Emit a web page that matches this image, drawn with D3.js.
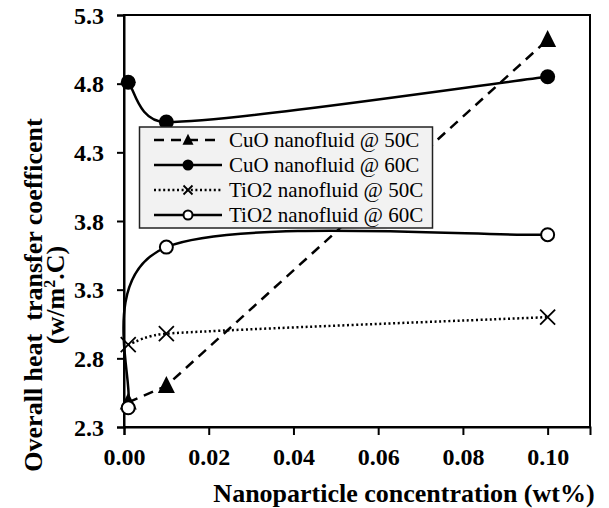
<!DOCTYPE html>
<html>
<head>
<meta charset="utf-8">
<script src="https://cdn.jsdelivr.net/npm/d3@7"></script>
<style>
  html, body { margin: 0; padding: 0; background: #fff; }
  svg { display: block; }
  text { font-family: "Liberation Serif", "Times New Roman", serif; }
</style>
</head>
<body>
<script>
// ---- data ----
const concentrations = [0.001, 0.01, 0.1];
const cuo50 = [2.48, 2.60, 5.12];
const cuo60 = [4.81, 4.52, 4.85];
const tio50 = [2.90, 2.98, 3.10];
const tio60 = [2.44, 3.61, 3.70];
const seriesNames = ["CuO nanofluid @ 50C", "CuO nanofluid @ 60C", "TiO2 nanofluid @ 50C", "TiO2 nanofluid @ 60C"];
const xTicks = [0, 0.02, 0.04, 0.06, 0.08, 0.10];
const yTicks = [2.3, 2.8, 3.3, 3.8, 4.3, 4.8, 5.3];
const xTitle = "Nanoparticle concentration (wt%)";
const yTitle1 = "Overall heat  transfer coefficent";
const yTitle2 = "(w/m";

const W = 609, H = 508;
const m = { left: 124, top: 15, right: 19, bottom: 81 };
const pw = W - m.left - m.right, ph = H - m.top - m.bottom;

// Excel-style smoothed curve (Bezier with 1/6 tangents, clamped to half segment)
function ExcelSmooth(context) { this._context = context; }
ExcelSmooth.prototype = {
  areaStart() { this._line = 0; },
  areaEnd() { this._line = NaN; },
  lineStart() { this._pts = []; },
  point(x, y) { this._pts.push([+x, +y]); },
  lineEnd() {
    const p = this._pts, n = p.length, c = this._context;
    if (!n) return;
    const dist = (a, b) => Math.hypot(a[0] - b[0], a[1] - b[1]);
    c.moveTo(p[0][0], p[0][1]);
    for (let i = 0; i < n - 1; i++) {
      const P0 = p[i - 1] || p[i], P1 = p[i], P2 = p[i + 1], P3 = p[i + 2] || p[i + 1];
      const d12 = dist(P1, P2), d02 = dist(P0, P2), d13 = dist(P1, P3);
      const f1 = (d02 / 6 < d12 / 2 || d02 === 0) ? 1 / 6 : d12 / (2 * d02);
      const f2 = (d13 / 6 < d12 / 2 || d13 === 0) ? 1 / 6 : d12 / (2 * d13);
      c.bezierCurveTo(
        P1[0] + (P2[0] - P0[0]) * f1, P1[1] + (P2[1] - P0[1]) * f1,
        P2[0] - (P3[0] - P1[0]) * f2, P2[1] - (P3[1] - P1[1]) * f2,
        P2[0], P2[1]);
    }
  }
};
const curveExcel = ctx => new ExcelSmooth(ctx);

const svg = d3.select("body").append("svg").attr("width", W).attr("height", H);
const g = svg.append("g").attr("transform", `translate(${m.left},${m.top})`);

const x = d3.scaleLinear().domain([0, 0.11]).range([0, pw]);
const y = d3.scaleLinear().domain([2.3, 5.3]).range([ph, 0]);

// frame
g.append("rect").attr("x", 0).attr("y", 0).attr("width", pw).attr("height", ph)
  .attr("fill", "none").attr("stroke", "#000").attr("stroke-width", 2);

// axes
const xAxis = g.append("g").attr("transform", `translate(0,${ph})`)
  .call(d3.axisBottom(x).tickValues(xTicks).tickFormat(d3.format(".2f")).tickSize(8).tickPadding(13));
const yAxis = g.append("g")
  .call(d3.axisLeft(y).tickValues(yTicks).tickFormat(d3.format(".1f")).tickSize(7).tickPadding(13));
[xAxis, yAxis].forEach(a => {
  a.select(".domain").attr("stroke", "#000").attr("stroke-width", 2);
  a.selectAll(".tick line").attr("stroke", "#000").attr("stroke-width", 2);
  a.selectAll(".tick text").attr("fill", "#000")
    .style("font-family", '"Liberation Serif", "Times New Roman", serif')
    .style("font-size", "24px").style("font-weight", "bold");
});
yAxis.selectAll(".tick text").attr("dy", "0.34em");

// series definitions
const series = [
  { name: seriesNames[0], vals: cuo50, curve: d3.curveLinear, dash: "10,7", marker: "tri" },
  { name: seriesNames[1], vals: cuo60, curve: curveExcel, dash: null, marker: "dot" },
  { name: seriesNames[2], vals: tio50, curve: curveExcel, dash: "2,2.6", marker: "x" },
  { name: seriesNames[3], vals: tio60, curve: curveExcel, dash: null, marker: "ring" }
];

function drawMarker(sel, type, cx, cy, s) {
  if (type === "tri") {
    const h = s * 0.95;
    sel.append("path").attr("d", `M${cx},${cy - h * 0.6}L${cx + s / 2},${cy + h * 0.45}L${cx - s / 2},${cy + h * 0.45}Z`)
      .attr("fill", "#000");
  } else if (type === "dot") {
    sel.append("circle").attr("cx", cx).attr("cy", cy).attr("r", s / 2).attr("fill", "#000");
  } else if (type === "ring") {
    sel.append("circle").attr("cx", cx).attr("cy", cy).attr("r", s / 2 - 1)
      .attr("fill", "#fff").attr("stroke", "#000").attr("stroke-width", 2);
  } else if (type === "x") {
    const r = s / 2;
    sel.append("path").attr("d", `M${cx - r},${cy - r}L${cx + r},${cy + r}M${cx - r},${cy + r}L${cx + r},${cy - r}`)
      .attr("stroke", "#000").attr("stroke-width", 1.8).attr("fill", "none");
  }
}

series.forEach(s => {
  const pts = concentrations.map((c, i) => [x(c), y(s.vals[i])]);
  const line = d3.line().curve(s.curve);
  g.append("path").attr("d", line(pts)).attr("fill", "none").attr("stroke", "#000")
    .attr("stroke-width", 2.5)
    .attr("stroke-dasharray", s.dash);
});
series.forEach(s => {
  concentrations.forEach((c, i) => {
    drawMarker(g, s.marker, x(c), y(s.vals[i]), s.marker === "tri" ? 17 : 15);
  });
});

// legend
const lg = svg.append("g");
lg.append("rect").attr("x", 139.5).attr("y", 127).attr("width", 293).attr("height", 101)
  .attr("fill", "#f2f2f2").attr("stroke", "#222").attr("stroke-width", 1.5);
series.forEach((s, i) => {
  const cy = 140 + i * 25;
  lg.append("line").attr("x1", 154).attr("x2", 222).attr("y1", cy).attr("y2", cy)
    .attr("stroke", "#000").attr("stroke-width", 2.5).attr("stroke-dasharray", s.dash);
  drawMarker(lg, s.marker, 188, cy, s.marker === "x" ? 9 : 11);
  lg.append("text").attr("x", 229).attr("y", cy).attr("dy", "0.33em")
    .style("font-size", "21px").attr("fill", "#000").text(s.name);
});

// axis titles
svg.append("text").attr("x", 404).attr("y", 502).attr("text-anchor", "middle")
  .style("font-size", "26px").style("font-weight", "bold").attr("fill", "#000").text(xTitle);

const yt = svg.append("g").attr("transform", "translate(0,295) rotate(-90)");
yt.append("text").attr("x", 0).attr("y", 42).attr("text-anchor", "middle")
  .style("font-size", "26px").style("font-weight", "bold").style("white-space", "pre")
  .attr("fill", "#000").text(yTitle1);
const t2 = yt.append("text").attr("x", 0).attr("y", 64).attr("text-anchor", "middle")
  .style("font-size", "26px").style("font-weight", "bold").attr("fill", "#000");
t2.append("tspan").text(yTitle2);
t2.append("tspan").attr("dy", -9).style("font-size", "16px").text("2");
t2.append("tspan").attr("dy", 9).text(".C)");
</script>
</body>
</html>
